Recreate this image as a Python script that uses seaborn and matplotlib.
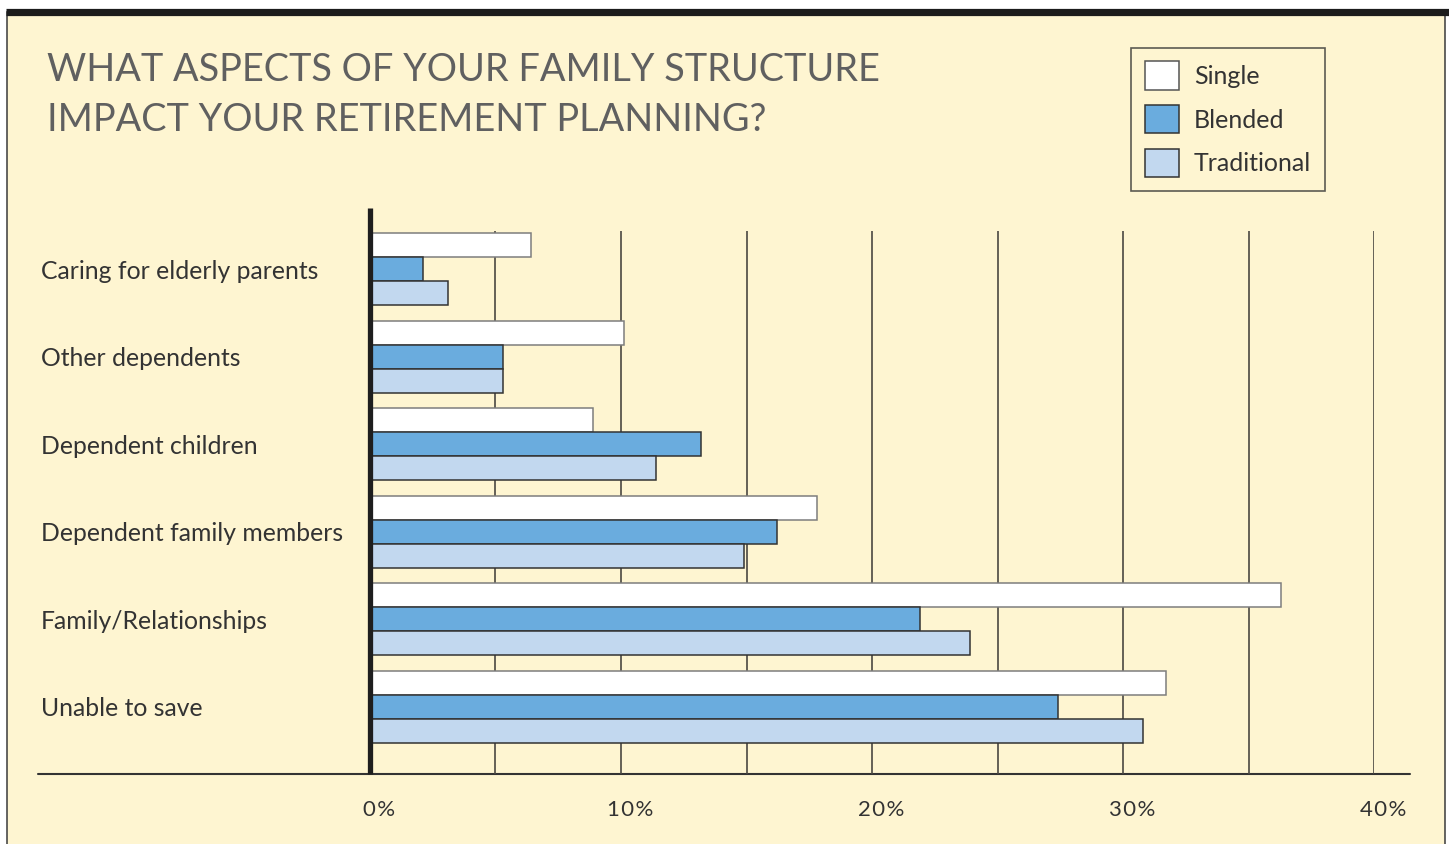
import matplotlib
matplotlib.use("Agg")
import matplotlib.pyplot as plt
import matplotlib.transforms as mtransforms
from matplotlib.lines import Line2D
from matplotlib.patches import Rectangle
import seaborn as sns
import pandas as pd

# ---- data -------------------------------------------------------------
aspects = [
    "Caring for elderly parents",
    "Other dependents",
    "Dependent children",
    "Dependent family members",
    "Family/Relationships",
    "Unable to save",
]
structures = ["Single", "Blended", "Traditional"]
single = [6.4, 10.1, 8.9, 17.8, 36.3, 31.7]
blended = [2.1, 5.3, 13.2, 16.2, 21.9, 27.4]
traditional = [3.1, 5.3, 11.4, 14.9, 23.9, 30.8]
tick_values = [0, 10, 20, 30, 40]
tick_labels = ["0%", "10%", "20%", "30%", "40%"]
title = "WHAT ASPECTS OF YOUR FAMILY STRUCTURE\nIMPACT YOUR RETIREMENT PLANNING?"

df = pd.DataFrame({
    "Aspect": aspects * 3,
    "Share": single + blended + traditional,
    "Structure": [s for s in structures for _ in aspects],
})

# ---- style ------------------------------------------------------------
BG = "#FEF5D1"
INK = "#333333"
GRID = "#4a4742"
fills = {"Single": "#FFFFFF", "Blended": "#6AACDE", "Traditional": "#C2D8EF"}
edges = {"Single": "#7d7d7d", "Blended": "#333333", "Traditional": "#333333"}

sns.set_theme(style="white")
plt.rcParams["font.family"] = ["Lato", "DejaVu Sans"]

W, H = 1449, 844
fig = plt.figure(figsize=(W / 100, H / 100), dpi=100)
fig.patch.set_facecolor("white")


def fx(px):
    return px / W


def fy(py):
    return 1 - py / H


# panel background and frame
fig.patches.append(Rectangle((fx(7), -0.01), fx(1445) - fx(7), fy(12) + 0.01,
                             transform=fig.transFigure, facecolor=BG,
                             edgecolor="#3a3a3a", linewidth=1.1, zorder=-10))
fig.add_artist(Line2D([fx(6), 1], [fy(11.5), fy(11.5)], transform=fig.transFigure,
                      color="#1c1c1c", linewidth=5.2, solid_capstyle="butt", zorder=-5))

# plotting area: 0% .. 40%
ax = fig.add_axes([fx(370), fy(774), fx(1374) - fx(370), fy(231) - fy(774)])
ax.set_facecolor("none")
ax.set_zorder(2)

sns.barplot(data=df, y="Aspect", x="Share", hue="Structure", orient="h",
            order=aspects, hue_order=structures, palette=fills, width=0.822,
            linewidth=1.1, edgecolor="#333333", saturation=1, ax=ax, zorder=3)
for cont, name in zip(ax.containers, structures):
    for bar in cont:
        bar.set_edgecolor(edges[name])

ax.set_xlim(0, 40)
ax.set_ylim(5.765, -0.434)
for s in ax.spines.values():
    s.set_visible(False)

# vertical rules every 5%
ax.set_xticks(range(5, 45, 5))
ax.tick_params(axis="x", length=0, labelbottom=False)
ax.grid(axis="x", color=GRID, linewidth=1.2, zorder=1)
ax.grid(axis="y", visible=False)
ax.set_axisbelow(True)

# category labels, left-aligned at the panel edge
ax.tick_params(axis="y", length=0, pad=236.9, labelsize=17.8, labelcolor=INK)
for lbl in ax.get_yticklabels():
    lbl.set_horizontalalignment("left")
ax.set_xlabel("")
ax.set_ylabel("")

# percentage labels below the baseline (slightly tracked)
pct_tf = mtransforms.blended_transform_factory(ax.transData, fig.transFigure)
for v, t in zip(tick_values, tick_labels):
    ax.text(v + 0.35, fy(810), "\u200a".join(t), transform=pct_tf, ha="center",
            va="center", fontsize=16, color=INK, clip_on=False)

# zero line and baseline
ax.plot([0, 0], [5.765, -0.70], color="#1e1e1e", linewidth=3.8, clip_on=False,
        solid_capstyle="butt", zorder=5)
fig.add_artist(Line2D([fx(38), fx(1410)], [fy(774), fy(774)], transform=fig.transFigure,
                      color="#333333", linewidth=1.5))

# title
fig.text(fx(47), fy(52), title, ha="left", va="top", fontsize=27.3, fontweight="normal",
         color="#606060", linespacing=1.47)

# legend
handles, labels = ax.get_legend_handles_labels()
ax.get_legend().remove()
leg = fig.legend(handles, labels, loc="upper left", bbox_to_anchor=(fx(1131), fy(48)),
                 bbox_transform=fig.transFigure, frameon=True, fontsize=18,
                 handlelength=1.36, handleheight=1.36, handletextpad=0.62,
                 labelspacing=0.62, borderpad=0.54, borderaxespad=0, fancybox=False)
leg.get_frame().set_facecolor(BG)
leg.get_frame().set_edgecolor("#333333")
leg.get_frame().set_linewidth(1.2)
for txt in leg.get_texts():
    txt.set_color(INK)
for h, name in zip(leg.legend_handles, structures):
    h.set_edgecolor("#333333" if name != "Single" else "#555555")

fig.savefig("out.png", dpi=100, facecolor=fig.get_facecolor())
